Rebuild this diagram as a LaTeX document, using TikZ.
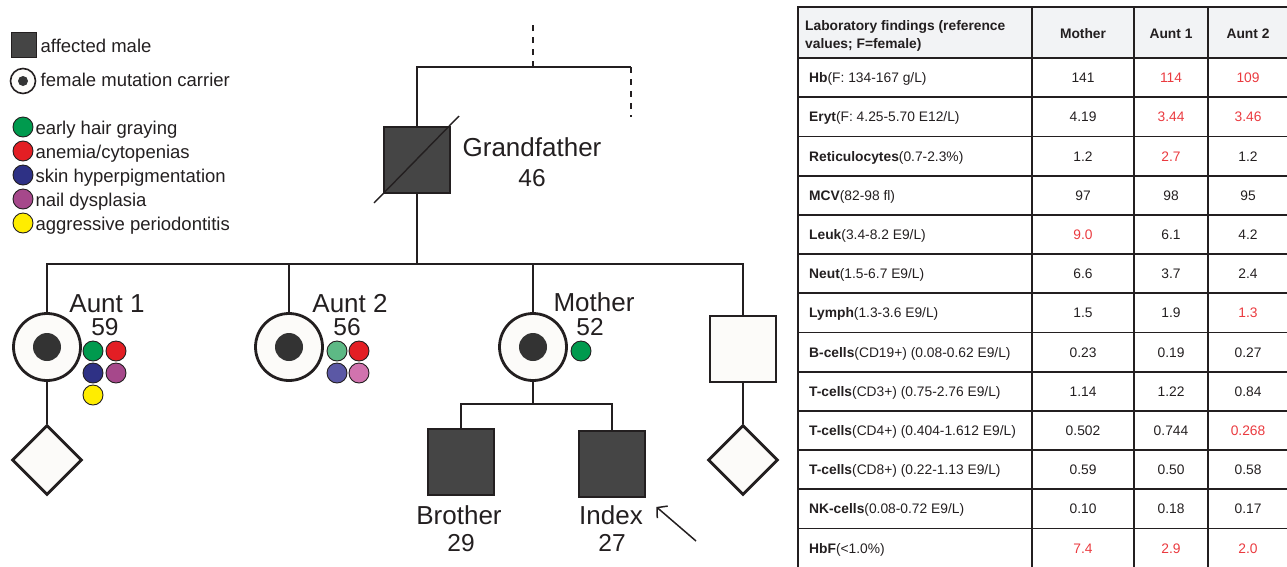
\documentclass[tikz,border=0pt]{standalone}
\usepackage{fontspec}
\setmainfont{Liberation Sans}
\usetikzlibrary{shapes.geometric,arrows.meta,calc}

\definecolor{ink}{HTML}{231F20}
\definecolor{affgray}{HTML}{454545}
\definecolor{coregray}{HTML}{333333}
\definecolor{paper}{HTML}{FCFBF9}
\definecolor{headgray}{HTML}{F2F3F5}
\definecolor{flagred}{HTML}{EA3A3F}
\definecolor{tgreen}{HTML}{009A4E}
\definecolor{tred}{HTML}{E31E24}
\definecolor{tnavy}{HTML}{2E3185}
\definecolor{tpurple}{HTML}{A6488B}
\definecolor{tyellow}{HTML}{FFED00}
\definecolor{lgreen}{HTML}{5DB985}
\definecolor{lblue}{HTML}{5B58A5}
\definecolor{lpink}{HTML}{D173AE}

% value outside the reference range
\newcommand\flagged[1]{\textcolor{flagred}{#1}}
% one row of the laboratory table: index, test, range, mother, aunt 1, aunt 2
\newcommand\labrow[6]{%
  \node[cell, anchor=base west] (r#1l) at (809,{58+39.2*(#1-0.5)+5}) {\textbf{#2}#3};
  \node[cell, anchor=base] (r#1m) at (1083,{58+39.2*(#1-0.5)+5}) {#4};
  \node[cell, anchor=base] (r#1a) at (1171,{58+39.2*(#1-0.5)+5}) {#5};
  \node[cell, anchor=base] (r#1b) at (1248,{58+39.2*(#1-0.5)+5}) {#6};
}

\begin{document}
\begin{tikzpicture}[x=1pt,y=-1pt,
  every node/.style={text=ink, inner sep=0pt},
  link/.style={draw=ink, line width=2.8pt},
  halflink/.style={draw=ink, line width=2.8pt, dash pattern=on 6pt off 6pt},
  lbl/.style={font=\fontsize{26}{30}\selectfont},
  age/.style={font=\fontsize{24.5}{28}\selectfont},
  leg/.style={font=\fontsize{18.5}{22}\selectfont},
  cell/.style={font=\fontsize{13.8}{16}\selectfont},
  affected/.style={rectangle, draw=ink, fill=affgray, line width=1.6pt, minimum size=66pt},
  male/.style={rectangle, draw=ink, fill=paper, line width=2.8pt, minimum size=66pt},
  carrier/.style={circle, draw=ink, fill=paper, line width=2.8pt, minimum size=67pt},
  core/.style={circle, fill=coregray, minimum size=28pt},
  nosex/.style={diamond, draw=ink, fill=paper, line width=2.8pt, minimum width=70pt, minimum height=70pt},
  trait/.style={circle, draw=ink, line width=0.9pt, minimum size=20pt},
  tablerule/.style={draw=ink, line width=1.8pt}]
\useasboundingbox (0,0) rectangle (1287,566);

% ---------- legend ----------
\node[affected, minimum size=25pt, line width=1.2pt] (legaff) at (24,45) {};
\node[leg, anchor=base west] (legafft) at (40.5,52) {affected male};
\node[carrier, minimum size=25pt, line width=1.6pt] (legcar) at (23,81) {};
\node[core, minimum size=10pt] (legcarc) at (legcar) {};
\node[leg, anchor=base west] (legcart) at (40.5,86) {female mutation carrier};
\node[trait, fill=tgreen] (leg1) at (23,127) {};
\node[leg, anchor=base west] (leg1t) at (35.3,134) {early hair graying};
\node[trait, fill=tred] (leg2) at (23,151) {};
\node[leg, anchor=base west] (leg2t) at (35.3,158) {anemia/cytopenias};
\node[trait, fill=tnavy] (leg3) at (23,175) {};
\node[leg, anchor=base west] (leg3t) at (35.3,182) {skin hyperpigmentation};
\node[trait, fill=tpurple] (leg4) at (23,199) {};
\node[leg, anchor=base west] (leg4t) at (35.3,206) {nail dysplasia};
\node[trait, fill=tyellow] (leg5) at (23,223) {};
\node[leg, anchor=base west] (leg5t) at (35.3,230) {aggressive periodontitis};

% ---------- pedigree ----------
% grandfather and his partnership line
\node[affected, line width=2pt] (gf) at (417,160) {};
\coordinate (mateL) at (417,67);
\coordinate (mateM) at (533,67);
\coordinate (mateR) at (631,67);
\coordinate (upEnd) at (533,24);
\coordinate (downEnd) at (631,117);
\draw[link] (gf.north) -- (mateL) -- (mateR);
\draw[halflink] (mateM) -- (upEnd);
\draw[halflink] (mateR) -- (downEnd);
\draw[draw=ink, line width=1.4pt] ($(gf.south west)+(-9,9)$) -- ($(gf.north east)+(8,-10)$);
\node[lbl, anchor=base] (gfname) at (532,156) {Grandfather};
\node[age, anchor=base] (gfage) at (532,186) {46};

% sibship
\coordinate (sib) at (417,264);
\node[carrier] (a1) at (47,347) {};
\node[core] (a1c) at (a1) {};
\node[carrier] (a2) at (289,347) {};
\node[core] (a2c) at (a2) {};
\node[carrier] (mo) at (533,347) {};
\node[core] (moc) at (mo) {};
\node[male] (um) at (743,349) {};
\draw[link] (gf.south) -- (sib);
\draw[link] (a1.north) -- (a1.north |- sib) -- (um.north |- sib) -- (um.north);
\draw[link] (a2.north) -- (a2.north |- sib);
\draw[link] (mo.north) -- (mo.north |- sib);

% offspring of aunt 1 and of the brother
\node[nosex] (d1) at (47,460) {};
\node[nosex] (d2) at (743,460) {};
\draw[link] (a1.south) -- (d1.north);
\draw[link] (um.south) -- (d2.north);

% mother's sons
\coordinate (kids) at (533,404);
\node[affected] (br) at (461,462) {};
\node[affected] (ix) at (612,464) {};
\draw[link] (mo.south) -- (kids);
\draw[link] (br.north) -- (br.north |- kids) -- (ix.north |- kids) -- (ix.north);

% labels
\node[lbl, anchor=base] (a1name) at (107,312) {Aunt 1};
\node[age, anchor=base] (a1age) at (105,335.5) {59};
\node[lbl, anchor=base] (a2name) at (350,312) {Aunt 2};
\node[age, anchor=base] (a2age) at (347,335.5) {56};
\node[lbl, anchor=base] (moname) at (594,311) {Mother};
\node[age, anchor=base] (moage) at (590,335.5) {52};
\node[lbl, anchor=base] (brname) at (459,524) {Brother};
\node[age, anchor=base] (brage) at (461,551) {29};
\node[lbl, anchor=base] (ixname) at (611,524) {Index};
\node[age, anchor=base] (ixage) at (612,551) {27};

% clinical features
\node[trait, fill=tgreen]  (a1t1) at (93,351) {};
\node[trait, fill=tred]    (a1t2) at (116,351) {};
\node[trait, fill=tnavy]   (a1t3) at (93,373) {};
\node[trait, fill=tpurple] (a1t4) at (116,373) {};
\node[trait, fill=tyellow] (a1t5) at (93,395) {};
\node[trait, fill=lgreen]  (a2t1) at (337,351) {};
\node[trait, fill=tred]    (a2t2) at (359,351) {};
\node[trait, fill=lblue]   (a2t3) at (337,373) {};
\node[trait, fill=lpink]   (a2t4) at (359,373) {};
\node[trait, fill=tgreen]  (mot1) at (581,351) {};

% proband arrow
\coordinate (ixarrow) at (696,541);
\draw[draw=ink, line width=1.5pt, -{Straight Barb[length=7pt,width=16pt]}, shorten >=14pt] (ixarrow) -- (ix.south east);

% ---------- laboratory table ----------
\fill[headgray] (798,7) rectangle (1289,58);
\foreach \k in {0,...,13} {
  \draw[tablerule] (798,{58+39.2*\k}) -- (1289,{58+39.2*\k});
}
\draw[tablerule] (797,7) -- (1289,7);
\foreach \cx in {798,1032,1134,1208} {
  \draw[tablerule] (\cx,7) -- (\cx,570);
}
\node[cell, font=\fontsize{13.8}{18}\selectfont\bfseries, align=left, anchor=north west] (head) at (805,20) {Laboratory findings (reference\\values; F=female)};
\node[cell, font=\fontsize{13.8}{16}\selectfont\bfseries, anchor=base] (headm) at (1083,38) {Mother};
\node[cell, font=\fontsize{13.8}{16}\selectfont\bfseries, anchor=base] (heada) at (1171,38) {Aunt 1};
\node[cell, font=\fontsize{13.8}{16}\selectfont\bfseries, anchor=base] (headb) at (1248,38) {Aunt 2};

\labrow{1}{Hb}{(F: 134-167 g/L)}{141}{\flagged{114}}{\flagged{109}}
\labrow{2}{Eryt}{(F: 4.25-5.70 E12/L)}{4.19}{\flagged{3.44}}{\flagged{3.46}}
\labrow{3}{Reticulocytes}{(0.7-2.3\%)}{1.2}{\flagged{2.7}}{1.2}
\labrow{4}{MCV}{(82-98 fl)}{97}{98}{95}
\labrow{5}{Leuk}{(3.4-8.2 E9/L)}{\flagged{9.0}}{6.1}{4.2}
\labrow{6}{Neut}{(1.5-6.7 E9/L)}{6.6}{3.7}{2.4}
\labrow{7}{Lymph}{(1.3-3.6 E9/L)}{1.5}{1.9}{\flagged{1.3}}
\labrow{8}{B-cells}{(CD19+) (0.08-0.62 E9/L)}{0.23}{0.19}{0.27}
\labrow{9}{T-cells}{(CD3+) (0.75-2.76 E9/L)}{1.14}{1.22}{0.84}
\labrow{10}{T-cells}{(CD4+) (0.404-1.612 E9/L)}{0.502}{0.744}{\flagged{0.268}}
\labrow{11}{T-cells}{(CD8+) (0.22-1.13 E9/L)}{0.59}{0.50}{0.58}
\labrow{12}{NK-cells}{(0.08-0.72 E9/L)}{0.10}{0.18}{0.17}
\labrow{13}{HbF}{(<1.0\%)}{\flagged{7.4}}{\flagged{2.9}}{\flagged{2.0}}
\end{tikzpicture}
\end{document}
